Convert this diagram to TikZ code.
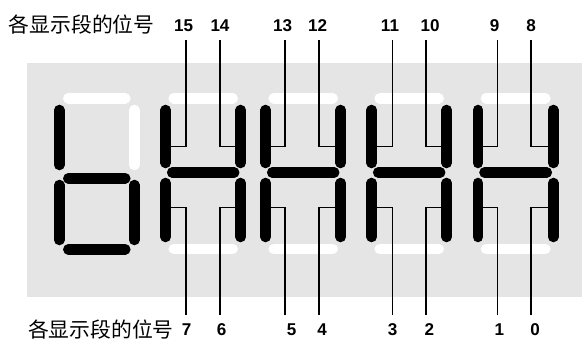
\documentclass[tikz,border=0pt]{standalone}
\usepackage{fontspec}
\setmainfont{Liberation Sans}
\newfontfamily\cjk{Noto Sans CJK SC}
\definecolor{panel}{HTML}{E5E5E5}
\begin{document}
\begin{tikzpicture}[x=0.75pt,y=-0.75pt,
  segon/.style={line width=7.9pt,line cap=round,black},
  segoff/.style={line width=7.9pt,line cap=round,white},
  lead/.style={line width=0.9pt,black},
  num/.style={font=\bfseries\fontsize{12.8pt}{14pt}\selectfont,inner sep=0pt},
  captext/.style={font=\cjk\fontsize{15.6pt}{17pt}\selectfont,inner sep=0pt}]
\useasboundingbox (0,0) rectangle (582,341);
\fill[panel] (26.7,63) rectangle (582,296.7);
% digit 1 (b)
\def\L{59.3}\def\R{134.3}
\draw[segoff] (\L+9,98.3) -- (\R-9,98.3);
\draw[segoff] (\R,110) -- (\R,165);
\draw[segon] (\L,110) -- (\L,165);
\draw[segon] (\L+9,178.3) -- (\R-9,178.3);
\draw[segon] (\L,185) -- (\L,240);
\draw[segon] (\R,185) -- (\R,240);
\draw[segon] (\L+9,249.3) -- (\R-9,249.3);
% digits 2-5 (H shapes)
\foreach \L/\R in {165.7/240.7, 265.7/340.7, 371.7/446.7, 478/553.3}{
  \draw[segoff] (\L+8,98.3) -- (\R-8,98.3);
  \draw[segoff] (\L+8,249) -- (\R-8,249);
  \draw[segon] (\L,110) -- (\L,163);
  \draw[segon] (\R,110) -- (\R,163);
  \draw[segon] (\L+6.5,172.5) -- (\R-6.5,172.5);
  \draw[segon] (\L,183) -- (\L,237);
  \draw[segon] (\R,183) -- (\R,237);
}
% labels
\node[captext] (capT) at (81.7,25) {各显示段的位号};
\node[captext] (capB) at (100.8,330) {各显示段的位号};
\foreach \n/\x in {15/183.7,14/220,13/282.5,12/317.5,11/390,10/430,9/494.7,8/531}
  \node[num] (n\n) at (\x,25.5) {\n};
\foreach \n/\x in {7/186.7,6/221.7,5/291.7,4/322,3/392.7,2/429.3,1/499.3,0/535}
  \node[num] (n\n) at (\x,330) {\n};
% leader lines
\foreach \L/\R/\a/\b/\ta/\tb/\ba/\bb in {165.7/240.7/186/220/15/14/7/6, 265.7/340.7/285/319/13/12/5/4, 371.7/446.7/392.7/426/11/10/3/2, 478/553.3/497.5/531/9/8/1/0}{
  \coordinate (t\ta) at (\a,40);
  \coordinate (t\tb) at (\b,40);
  \coordinate (b\ba) at (\a,315);
  \coordinate (b\bb) at (\b,315);
  \coordinate (s\ta) at (\L+5,146.7);
  \coordinate (s\tb) at (\R-5,146.7);
  \coordinate (s\ba) at (\L+5,207.7);
  \coordinate (s\bb) at (\R-5,207.7);
  \draw[lead] (t\ta) |- (s\ta);
  \draw[lead] (t\tb) |- (s\tb);
  \draw[lead] (b\ba) |- (s\ba);
  \draw[lead] (b\bb) |- (s\bb);
}
\end{tikzpicture}
\end{document}
